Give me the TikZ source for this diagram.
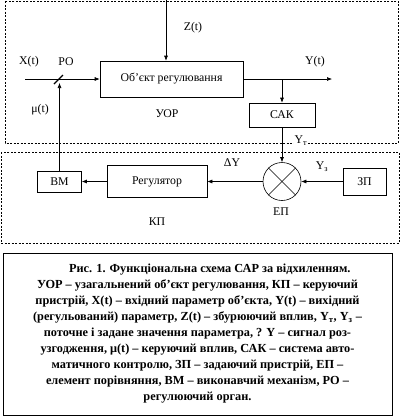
\documentclass[tikz,border=0pt]{standalone}
\usepackage{fontspec}
\setmainfont{Liberation Serif}
\usetikzlibrary{arrows.meta,positioning}

\begin{document}
\begin{tikzpicture}[x=1pt,y=-1pt,
    box/.style={draw,line width=0.6pt,font=\fontsize{11.8}{14}\selectfont,inner sep=2pt},
    flow/.style={-{Latex[length=5pt,width=4pt]},line width=0.6pt},
    frame/.style={line width=0.6pt,dash pattern=on 2pt off 1.5pt},
    label/.style={font=\fontsize{11.8}{14}\selectfont,inner sep=1pt},
    caption/.style={draw,line width=1pt,align=center,inner sep=0pt,
        font=\bfseries\fontsize{12.3}{16}\selectfont}]
\useasboundingbox (0,0) rectangle (400,416);
\draw[frame] (5,1) rectangle (398,143);
\draw[frame] (1,152) rectangle (399,243);

\node[box,minimum width=143pt,minimum height=36pt] (object) at (171.5,79) {Об'єкт регулювання};
\node[box,minimum width=66pt,minimum height=24pt] (sak) at (282,115) {САК};
\node[box,circle,minimum size=38pt,inner sep=0pt] (ep) at (282,181.5) {};
\node[box,minimum width=43pt,minimum height=27pt] (zp) at (364.5,181.5) {ЗП};
\node[box,minimum width=100pt,minimum height=32pt] (reg) at (157,181.5) {Регулятор};
\node[box,minimum width=44pt,minimum height=21pt] (vm) at (59.5,181.5) {ВМ};
\coordinate (zin) at (166,0);
\coordinate (xin) at (25,79);
\coordinate (ro) at (59.5,83);
\coordinate (tap) at (282,79);
\coordinate (yout) at (332,79);

\draw (ep.45) -- (ep.225);
\draw (ep.135) -- (ep.315);
\draw[flow] (zin) -- (zin |- object.north);
\draw[flow] (xin) -- (object.west);
\draw[flow] (object.east) -- (yout);
\draw[flow] (tap) -- (sak.north);
\draw[flow] (sak.south) -- (ep.north);
\draw[flow] (zp.west) -- (ep.east);
\draw[flow] (ep.west) -- (reg.east);
\draw[flow] (reg.west) -- (vm.east);
\draw[flow] (vm.north) -- (ro);
\draw[line width=1.4pt] (54,84) -- (63,75);

\node[label] at (29,62) {X(t)};
\node[label] at (66,62) {РО};
\node[label] at (40,110) {μ(t)};
\node[label] at (193,28) {Z(t)};
\node[label] at (315,62) {Y(t)};
\node[label] at (167,114) {УОР};
\node[label,fill=white] at (301,141) {Y\textsubscript{т}};
\node[label] at (322,167) {Y\textsubscript{з}};
\node[label] at (232,163) {ΔY};
\node[label] at (281,212) {ЕП};
\node[label] at (157,222) {КП};

\node[caption,minimum width=389pt,minimum height=162pt] (note) at (197.5,334)
    {\hspace*{2em}Рис. 1. Функціональна схема САР за відхиленням.\\
     УОР – узагальнений об'єкт регулювання, КП – керуючий\\
     пристрій, X(t) – вхідний параметр об'єкта, Y(t) – вихідний\\
     (регульований) параметр, Z(t) – збурюючий вплив, Y\textsubscript{т}, Y\textsubscript{з} –\\
     поточне і задане значення параметра, ? Y – сигнал роз-\\
     узгодження, μ(t) – керуючий вплив, САК – система авто-\\
     матичного контролю, ЗП – задаючий пристрій, ЕП –\\
     елемент порівняння, ВМ – виконавчий механізм, РО –\\
     регулюючий орган.};
\end{tikzpicture}
\end{document}
